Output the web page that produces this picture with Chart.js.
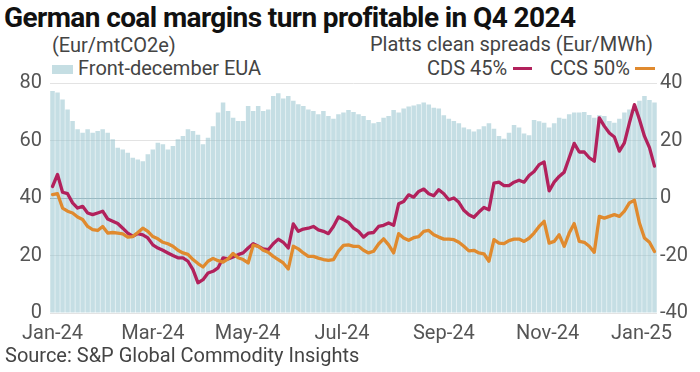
<!DOCTYPE html>
<html>
<head>
<meta charset="utf-8">
<script src="https://cdn.jsdelivr.net/npm/chart.js@4/dist/chart.umd.min.js"></script>
<style>
  html, body { margin: 0; padding: 0; background: #fff; }
  body { width: 700px; height: 372px; position: relative; overflow: hidden; font-family: Roboto, sans-serif; color: #444; }
  .abs { position: absolute; white-space: nowrap; }
  #title { left: 4px; top: 1px; font-size: 28px; font-weight: 700; color: #111; letter-spacing: -0.6px; }
  .lbl { font-size: 20px; line-height: 22px; color: #444; }
  #chartWrap { position: absolute; left: 0; top: 60px; width: 700px; height: 290px; }
</style>
</head>
<body>
<div id="title" class="abs">German coal margins turn profitable in Q4 2024</div>
<div class="abs lbl" style="left:52px; top:34px;">(Eur/mtCO2e)</div>
<div class="abs lbl" style="right:47px; top:33px;">Platts clean spreads (Eur/MWh)</div>

<div class="abs" style="left:52px; top:65px; width:21px; height:9px; background:#c5dee3;"></div>
<div class="abs lbl" style="left:78px; top:57px;">Front-december EUA</div>

<div class="abs lbl" style="left:427px; top:57px;">CDS 45%</div>
<div class="abs" style="left:513px; top:67px; width:19px; height:3px; background:#b2215c;"></div>
<div class="abs lbl" style="left:550px; top:57px;">CCS 50%</div>
<div class="abs" style="left:635px; top:67px; width:20px; height:3px; background:#e08a2e;"></div>

<div id="chartWrap"><canvas id="c"></canvas></div>
<div class="abs lbl" style="left:5px; top:344px;">Source: S&amp;P Global Commodity Insights</div>

<script>
// Front-december EUA (Eur/mtCO2e), sampled about every 2 trading days, Jan-24 .. early Jan-25
const eua = [77.2, 76.7, 74.3, 70.8, 66.8, 63.9, 62.7, 63.9, 62.7, 63.3,
  63.9, 62.7, 60.4, 57.5, 56.9, 55.7, 54.0, 53.4, 52.8, 55.2,
  56.9, 59.2, 58.7, 56.9, 58.1, 60.4, 61.6, 63.9, 63.3, 62.0,
  58.7, 61.0, 65.0, 69.7, 73.2, 70.3, 67.9, 66.8, 66.8, 72.0,
  70.3, 72.0, 70.3, 70.8, 75.5, 76.4, 74.6, 75.5, 73.8, 72.6,
  72.0, 70.8, 70.3, 69.1, 70.3, 68.5, 67.6, 69.1, 69.7, 70.6,
  69.9, 69.1, 68.5, 67.1, 66.0, 66.4, 67.9, 68.5, 70.6, 69.7,
  71.1, 71.8, 72.2, 72.6, 73.2, 72.5, 71.4, 71.1, 68.8, 67.6,
  66.8, 66.0, 64.5, 63.9, 63.1, 63.9, 65.0, 66.0, 64.1, 61.6,
  60.6, 62.7, 65.4, 64.5, 62.4, 61.8, 67.1, 66.7, 66.2, 64.5,
  66.0, 67.9, 67.6, 69.1, 69.7, 69.7, 69.9, 68.9, 67.9, 68.8,
  68.5, 66.8, 66.2, 67.6, 69.7, 70.8, 72.0, 73.8, 75.5, 74.1,
  73.2];

// Clean dark spread 45% (Eur/MWh)
const cds45 = [4.0, 8.2, 2.0, 1.5, -1.7, -3.5, -2.9, -5.2, -5.8, -5.2,
  -4.6, -7.3, -8.1, -8.9, -10.5, -12.2, -13.3, -12.4, -12.8, -13.9,
  -16.3, -17.4, -18.2, -19.1, -20.0, -20.8, -20.8, -22.0, -24.9, -29.5,
  -28.4, -26.1, -25.5, -24.3, -20.8, -21.2, -20.5, -19.7, -19.1, -17.4,
  -15.9, -16.8, -17.7, -18.0, -15.9, -14.3, -15.4, -17.4, -9.0, -11.6,
  -10.8, -10.5, -9.9, -11.1, -11.6, -12.4, -9.9, -6.6, -7.5, -8.5,
  -10.5, -11.6, -13.6, -12.2, -12.0, -9.9, -9.5, -8.7, -9.5, -2.0,
  -1.2, 1.1, 0.3, 2.3, 3.1, 1.5, 0.8, 2.9, 1.5, -0.6,
  0.0, -1.5, -4.3, -5.8, -6.7, -4.9, -3.3, -4.1, 5.2, 5.5,
  4.3, 4.3, 5.5, 6.2, 5.5, 7.8, 9.2, 11.6, 12.5, 2.5,
  5.5, 7.5, 9.0, 14.0, 19.0, 16.0, 16.0, 14.0, 12.8, 27.9,
  25.0, 22.6, 21.2, 16.3, 19.2, 26.1, 32.5, 27.3, 21.5, 17.5,
  11.1];

// Clean spark spread 50% (Eur/MWh)
const ccs50 = [1.2, 1.5, -3.5, -4.6, -5.2, -6.6, -7.5, -9.9, -11.0, -11.3,
  -9.9, -12.2, -12.0, -12.2, -12.5, -13.6, -13.4, -12.0, -10.5, -11.6,
  -13.4, -14.2, -15.4, -15.9, -16.8, -18.2, -19.1, -19.6, -21.4, -22.8,
  -24.0, -22.0, -21.0, -21.8, -22.3, -21.2, -19.3, -20.8, -21.4, -22.6,
  -16.4, -16.8, -18.2, -18.9, -20.3, -21.4, -22.6, -24.7, -16.8, -17.7,
  -19.1, -20.3, -20.3, -20.9, -21.4, -21.7, -21.4, -18.5, -16.5, -16.3,
  -16.8, -16.8, -18.2, -19.1, -18.5, -16.0, -14.2, -16.3, -19.1, -12.4,
  -13.9, -14.7, -13.8, -13.4, -11.6, -11.3, -12.8, -13.6, -14.3, -14.3,
  -14.5, -15.4, -16.8, -18.4, -18.2, -19.1, -19.4, -22.0, -14.5, -15.7,
  -15.9, -14.8, -14.3, -14.3, -15.1, -14.0, -12.2, -9.9, -8.1, -15.7,
  -15.1, -12.8, -16.8, -12.2, -8.9, -15.1, -15.4, -16.8, -18.9, -6.4,
  -7.0, -6.4, -5.8, -6.4, -4.6, -1.7, -0.8, -8.7, -13.9, -15.4,
  -18.6];

// month starts, as position in the sampled series
const monthStartIdx = [0, 20, 38.9, 57.7, 78, 98.7, 117.4];
const monthLabels = ['Jan-24', 'Mar-24', 'May-24', 'Jul-24', 'Sep-24', 'Nov-24', 'Jan-25'];

const tickFont = { family: 'Roboto', size: 20 };
const tickColor = '#555';

new Chart(document.getElementById('c'), {
  type: 'bar',
  data: {
    labels: eua.map((_, i) => i),
    datasets: [
      {
        type: 'line', label: 'CCS 50%', data: ccs50, yAxisID: 'y1', order: 0,
        borderColor: '#e08a2e', borderWidth: 3.3, pointRadius: 0, tension: 0,
        borderJoinStyle: 'round', borderCapStyle: 'round'
      },
      {
        type: 'line', label: 'CDS 45%', data: cds45, yAxisID: 'y1', order: 1,
        borderColor: '#b2215c', borderWidth: 3.3, pointRadius: 0, tension: 0,
        borderJoinStyle: 'round', borderCapStyle: 'round'
      },
      {
        type: 'bar', label: 'Front-december EUA', data: eua, yAxisID: 'y', order: 2,
        backgroundColor: 'rgba(150,195,205,0.55)',
        barPercentage: 1, categoryPercentage: 0.9
      }
    ]
  },
  options: {
    responsive: true,
    maintainAspectRatio: false,
    animation: false,
    layout: { padding: { top: 23, bottom: 0, left: 0, right: 0 } },
    plugins: { legend: { display: false }, tooltip: { enabled: false } },
    scales: {
      x: {
        type: 'linear', min: -0.5, max: eua.length - 0.5, offset: false,
        grid: { display: false, drawTicks: false, offset: false },
        border: { display: false },
        afterBuildTicks: s => { s.ticks = monthStartIdx.map(v => ({ value: v })); },
        afterFit: s => { s.height = 37; },
        ticks: {
          autoSkip: false, maxRotation: 0, padding: 9,
          color: tickColor, font: tickFont,
          callback: (v, i) => monthLabels[i]
        }
      },
      y: {
        position: 'left', min: 0, max: 80,
        border: { display: false },
        afterFit: s => { s.width = 50; },
        grid: {
          drawTicks: false,
          color: ctx => ctx.tick && ctx.tick.value === 40 ? '#9fb0b5' : '#e3e3e3',
          lineWidth: 1
        },
        ticks: { stepSize: 20, padding: 8, color: tickColor, font: tickFont }
      },
      y1: {
        position: 'right', min: -40, max: 40,
        border: { display: false },
        afterFit: s => { s.width = 43; },
        grid: { display: false, drawTicks: false },
        ticks: { stepSize: 20, padding: 3, color: tickColor, font: tickFont }
      }
    }
  }
});
</script>
</body>
</html>
